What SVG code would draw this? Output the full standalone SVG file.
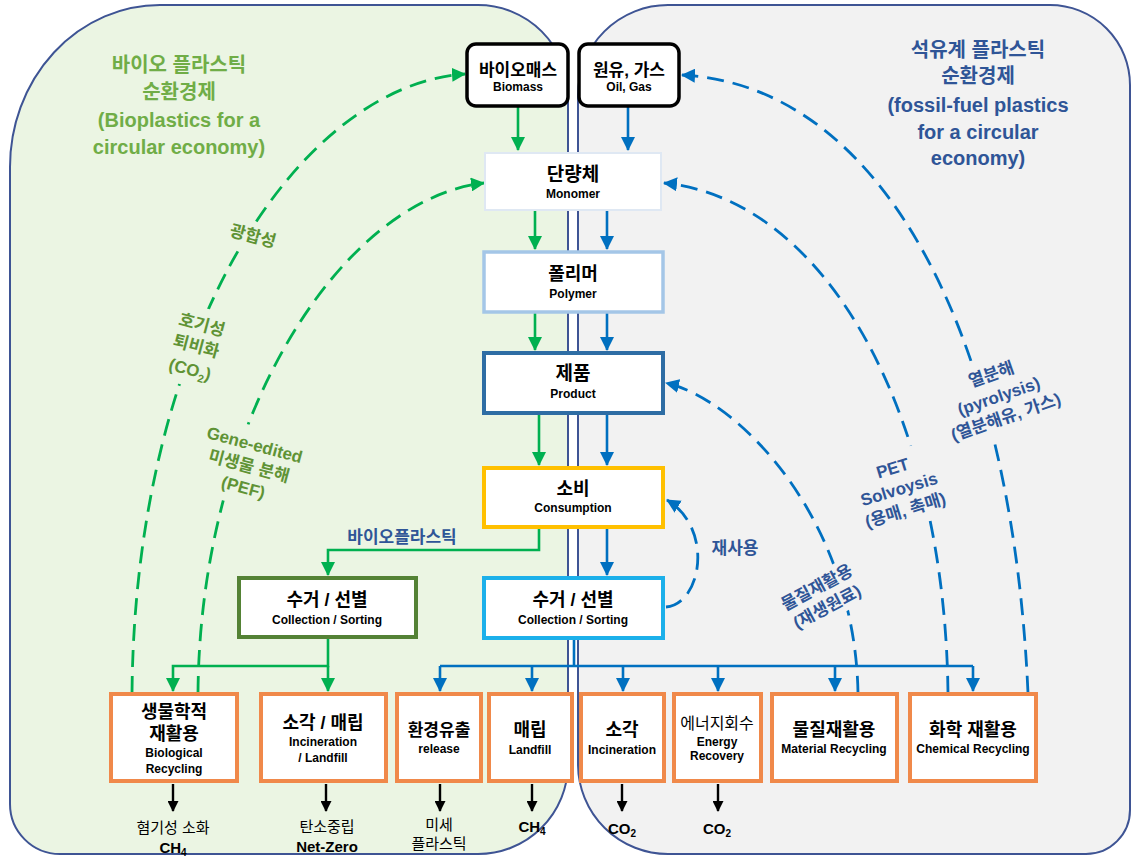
<svg xmlns="http://www.w3.org/2000/svg" width="1133" height="860" viewBox="0 0 1133 860">
<style>
.t{font-family:"Liberation Sans","Noto Sans CJK KR",sans-serif;font-weight:bold;text-anchor:middle}
.n{font-family:"Liberation Sans","Noto Sans CJK KR",sans-serif;font-weight:normal;text-anchor:middle}
.box{fill:#fff}
.org{fill:#fff;stroke:#f0894a;stroke-width:4}
.g{stroke:#00b050;stroke-width:2.6;fill:none}
.b{stroke:#0070c0;stroke-width:2.6;fill:none}
.k{stroke:#000;stroke-width:2.4;fill:none}
.dg{stroke:#00b050;stroke-width:2.8;fill:none;stroke-dasharray:17 9}
.db{stroke:#0070c0;stroke-width:2.8;fill:none;stroke-dasharray:17 9}
.lg{fill:#5f9335}
.lb{fill:#2f5597}
</style>
<defs>
<marker id="aG" markerWidth="14" markerHeight="14" refX="13" refY="7" orient="auto" markerUnits="userSpaceOnUse"><path d="M0,0 L14,7 L0,14 z" fill="#00b050"/></marker>
<marker id="aB" markerWidth="14" markerHeight="14" refX="13" refY="7" orient="auto" markerUnits="userSpaceOnUse"><path d="M0,0 L14,7 L0,14 z" fill="#0070c0"/></marker>
<marker id="aK" markerWidth="11" markerHeight="11" refX="10" refY="5.5" orient="auto" markerUnits="userSpaceOnUse"><path d="M0,0 L11,5.5 L0,11 z" fill="#000"/></marker>
<mask id="lm" maskUnits="userSpaceOnUse" x="0" y="0" width="1133" height="860">
<rect width="1133" height="860" fill="#fff"/>
<rect x="-34" y="-14" width="68" height="28" transform="translate(253,236) rotate(15)" fill="#000"/>
<rect x="-36" y="-40" width="72" height="80" transform="translate(196,347) rotate(15)" fill="#000"/>
<rect x="-62" y="-40" width="124" height="80" transform="translate(249,466) rotate(15)" fill="#000"/>
<rect x="-70" y="-38" width="140" height="76" transform="translate(999,397) rotate(-19)" fill="#000"/>
<rect x="-58" y="-38" width="116" height="76" transform="translate(899,489) rotate(-17)" fill="#000"/>
<rect x="-52" y="-24" width="104" height="48" transform="translate(822,597) rotate(-28)" fill="#000"/>
</mask>
</defs>
<rect width="1133" height="860" fill="#fff"/>
<g id="panel-bio">
<path d="M10,167 A150,162 0 0 1 160,5 H478 A90,90 0 0 1 568,95 V765 A90,90 0 0 1 478,854 H60 A50,50 0 0 1 10,804 Z" fill="#ebf5e3" stroke="#3e5494" stroke-width="2"/>
</g>
<g id="panel-fossil">
<path d="M668,5 H1050 A80,80 0 0 1 1130,85 V810 A44,44 0 0 1 1086,854 H668 A90,90 0 0 1 578,765 V95 A90,90 0 0 1 668,5 Z" fill="#f2f2f2" stroke="#3e5494" stroke-width="2"/>
</g>
<g id="titles">
<text class="t" font-size="20" fill="#70ad47"><tspan x="179" y="72">바이오 플라스틱</tspan><tspan x="179" y="99">순환경제</tspan><tspan x="179" y="127">(Bioplastics for a</tspan><tspan x="179" y="154">circular economy)</tspan></text>
<text class="t" font-size="20" fill="#2f5597"><tspan x="978" y="57">석유계 플라스틱</tspan><tspan x="978" y="83">순환경제</tspan><tspan x="978" y="112">(fossil-fuel plastics</tspan><tspan x="978" y="139">for a circular</tspan><tspan x="978" y="165">economy)</tspan></text>
</g>
<g id="connectors">
<path class="g" d="M518,106 V150" marker-end="url(#aG)"/>
<path class="b" d="M628,106 V150" marker-end="url(#aB)"/>
<path class="g" d="M535,210 V249" marker-end="url(#aG)"/>
<path class="b" d="M607,210 V249" marker-end="url(#aB)"/>
<path class="g" d="M535,312 V350" marker-end="url(#aG)"/>
<path class="b" d="M607,312 V350" marker-end="url(#aB)"/>
<path class="g" d="M539,413 V465" marker-end="url(#aG)"/>
<path class="b" d="M607,413 V465" marker-end="url(#aB)"/>
<path class="b" d="M607,527 V575" marker-end="url(#aB)"/>
<path class="g" d="M539,527 V550 H328 V575" marker-end="url(#aG)"/>
<path class="g" d="M328,637 V666 H173 V691" marker-end="url(#aG)"/>
<path class="g" d="M328,666 V691" marker-end="url(#aG)"/>
<path class="b" d="M574,638 V666"/>
<path class="b" d="M440,666 H973"/>
<path class="b" d="M440,666 V691" marker-end="url(#aB)"/>
<path class="b" d="M532,666 V691" marker-end="url(#aB)"/>
<path class="b" d="M623,666 V691" marker-end="url(#aB)"/>
<path class="b" d="M718,666 V691" marker-end="url(#aB)"/>
<path class="b" d="M835,666 V691" marker-end="url(#aB)"/>
<path class="b" d="M973,666 V691" marker-end="url(#aB)"/>
<g mask="url(#lm)">
<path class="dg" d="M132,693 C135,330 300,85 465,74" marker-end="url(#aG)"/>
<path class="dg" d="M198,693 C200,420 340,200 484,183" marker-end="url(#aG)"/>
<path class="db" d="M1028,693 C1012,330 880,85 682,75" marker-end="url(#aB)"/>
<path class="db" d="M948,693 C945,420 830,200 664,183" marker-end="url(#aB)"/>
<path class="db" d="M858,693 C855,520 740,400 666,383" marker-end="url(#aB)"/>
</g>
<path class="db" d="M666,607 C702,604 714,528 667,500" marker-end="url(#aB)"/>
<path class="k" d="M173,784 V811" marker-end="url(#aK)"/>
<path class="k" d="M326,784 V811" marker-end="url(#aK)"/>
<path class="k" d="M440,784 V811" marker-end="url(#aK)"/>
<path class="k" d="M532,784 V811" marker-end="url(#aK)"/>
<path class="k" d="M622,784 V811" marker-end="url(#aK)"/>
<path class="k" d="M718,784 V811" marker-end="url(#aK)"/>
</g>
<g id="n-biomass">
<rect x="467" y="44" width="101" height="62" rx="9" class="box" stroke="#000" stroke-width="3.5"/>
<text class="t" x="518" y="76" font-size="17">바이오매스</text>
<text class="t" x="518" y="91" font-size="12">Biomass</text>
</g>
<g id="n-oil">
<rect x="579" y="44" width="100" height="62" rx="9" class="box" stroke="#000" stroke-width="3.5"/>
<text class="t" x="629" y="76" font-size="17">원유, 가스</text>
<text class="t" x="629" y="91" font-size="12">Oil, Gas</text>
</g>
<g id="n-monomer">
<rect x="485" y="153" width="176" height="57" class="box" stroke="#dfe8f3" stroke-width="2"/>
<text class="t" x="573" y="181" font-size="19">단량체</text>
<text class="t" x="573" y="198" font-size="12">Monomer</text>
</g>
<g id="n-polymer">
<rect x="484" y="252" width="179" height="60" class="box" stroke="#a4c6e7" stroke-width="3.5"/>
<text class="t" x="573" y="280" font-size="18">폴리머</text>
<text class="t" x="573" y="298" font-size="12">Polymer</text>
</g>
<g id="n-product">
<rect x="484" y="353" width="179" height="60" class="box" stroke="#2e6da4" stroke-width="4"/>
<text class="t" x="573" y="380" font-size="19">제품</text>
<text class="t" x="573" y="398" font-size="12">Product</text>
</g>
<g id="n-consumption">
<rect x="484" y="468" width="179" height="59" class="box" stroke="#ffc000" stroke-width="4"/>
<text class="t" x="573" y="495" font-size="18">소비</text>
<text class="t" x="573" y="512" font-size="12">Consumption</text>
</g>
<g id="n-collect-fossil">
<rect x="484" y="578" width="179" height="60" class="box" stroke="#1cb0ea" stroke-width="4"/>
<text class="t" x="573" y="606" font-size="18">수거 / 선별</text>
<text class="t" x="573" y="624" font-size="12">Collection / Sorting</text>
</g>
<g id="n-collect-bio">
<rect x="239" y="578" width="177" height="59" class="box" stroke="#548235" stroke-width="4"/>
<text class="t" x="327" y="606" font-size="18">수거 / 선별</text>
<text class="t" x="327" y="624" font-size="12">Collection / Sorting</text>
</g>
<g id="n-bio-recycling">
<rect x="111" y="694" width="126" height="87" class="org"/>
<text class="t" x="174" y="718" font-size="18">생물학적</text>
<text class="t" x="174" y="740" font-size="18">재활용</text>
<text class="t" x="174" y="757" font-size="12">Biological</text>
<text class="t" x="174" y="773" font-size="12">Recycling</text>
</g>
<g id="n-incin-landfill">
<rect x="261" y="694" width="125" height="87" class="org"/>
<text class="t" x="323" y="729" font-size="18">소각 / 매립</text>
<text class="t" x="323" y="746" font-size="12">Incineration</text>
<text class="t" x="323" y="762" font-size="12">/ Landfill</text>
</g>
<g id="n-release">
<rect x="397" y="694" width="84" height="87" class="org"/>
<text class="t" x="439" y="736" font-size="17">환경유출</text>
<text class="t" x="439" y="753" font-size="12">release</text>
</g>
<g id="n-landfill">
<rect x="489" y="694" width="83" height="87" class="org"/>
<text class="t" x="530" y="736" font-size="18">매립</text>
<text class="t" x="530" y="754" font-size="12">Landfill</text>
</g>
<g id="n-incineration">
<rect x="581" y="694" width="83" height="87" class="org"/>
<text class="t" x="622" y="736" font-size="18">소각</text>
<text class="t" x="622" y="754" font-size="12">Incineration</text>
</g>
<g id="n-energy">
<rect x="674" y="694" width="87" height="87" class="org"/>
<text class="n" x="717" y="729" font-size="16">에너지회수</text>
<text class="t" x="717" y="746" font-size="12">Energy</text>
<text class="t" x="717" y="760" font-size="12">Recovery</text>
</g>
<g id="n-material">
<rect x="772" y="694" width="125" height="87" class="org"/>
<text class="t" x="834" y="736" font-size="18">물질재활용</text>
<text class="t" x="834" y="753" font-size="12">Material Recycling</text>
</g>
<g id="n-chemical">
<rect x="910" y="694" width="126" height="87" class="org"/>
<text class="t" x="973" y="736" font-size="18">화학 재활용</text>
<text class="t" x="973" y="753" font-size="12">Chemical Recycling</text>
</g>
<g id="labels">
<text class="t lb" x="402" y="543" font-size="17">바이오플라스틱</text>
<text class="t lb" x="735" y="554" font-size="17">재사용</text>
<text class="t lg" font-size="17" transform="translate(253,236) rotate(15)" y="6">광합성</text>
<g transform="translate(196,347) rotate(15)">
<text class="t lg" font-size="17" x="0" y="-17">호기성</text>
<text class="t lg" font-size="17" x="0" y="5">퇴비화</text>
<text class="t lg" font-size="17" x="0" y="29">(CO<tspan font-size="11" dy="4">2</tspan><tspan dy="-4">)</tspan></text>
</g>
<g transform="translate(249,466) rotate(15)">
<text class="t lg" font-size="17" x="0" y="-16">Gene-edited</text>
<text class="t lg" font-size="17" x="0" y="6">미생물 분해</text>
<text class="t lg" font-size="17" x="0" y="28">(PEF)</text>
</g>
<g transform="translate(999,397) rotate(-19)">
<text class="t lb" font-size="17" x="0" y="-18">열분해</text>
<text class="t lb" font-size="17" x="0" y="5">(pyrolysis)</text>
<text class="t lb" font-size="17" x="0" y="27">(열분해유, 가스)</text>
</g>
<g transform="translate(899,489) rotate(-17)">
<text class="t lb" font-size="17" x="0" y="-16">PET</text>
<text class="t lb" font-size="17" x="0" y="6">Solvoysis</text>
<text class="t lb" font-size="17" x="0" y="28">(용매, 촉매)</text>
</g>
<g transform="translate(822,597) rotate(-28)">
<text class="t lb" font-size="17" x="0" y="-5">물질재활용</text>
<text class="t lb" font-size="17" x="0" y="17">(재생원료)</text>
</g>
<text class="n" x="173" y="833" font-size="15">혐기성 소화</text>
<text class="t" x="173" y="853" font-size="15">CH<tspan font-size="10" dy="3">4</tspan></text>
<text class="n" x="327" y="832" font-size="15">탄소중립</text>
<text class="t" x="327" y="852" font-size="15">Net-Zero</text>
<text class="n" x="439" y="830" font-size="15">미세</text>
<text class="n" x="439" y="849" font-size="15">플라스틱</text>
<text class="t" x="532" y="832" font-size="15">CH<tspan font-size="10" dy="3">4</tspan></text>
<text class="t" x="622" y="834" font-size="15">CO<tspan font-size="10" dy="3">2</tspan></text>
<text class="t" x="717" y="834" font-size="15">CO<tspan font-size="10" dy="3">2</tspan></text>
</g>
</svg>
